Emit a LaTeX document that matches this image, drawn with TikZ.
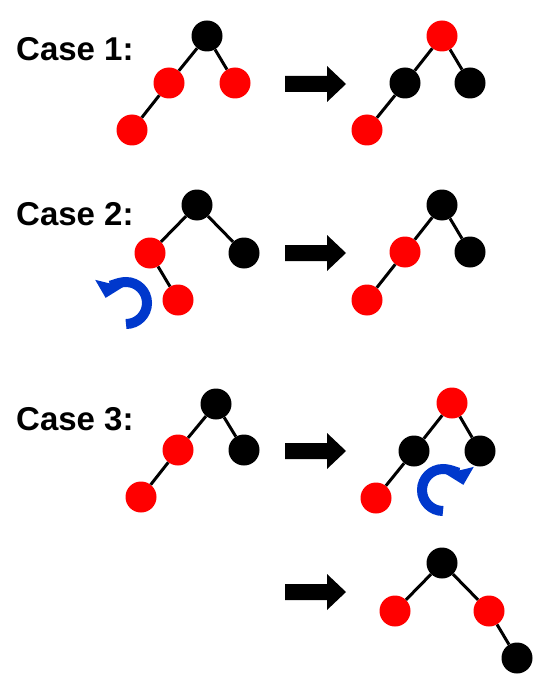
\documentclass[tikz,border=0pt]{standalone}
\usepackage{fontspec}
\setmainfont{Liberation Sans}
\usepackage{tikz}
\usetikzlibrary{arrows.meta}
\definecolor{rbred}{RGB}{255,0,0}
\definecolor{rotblue}{RGB}{0,56,204}

\tikzset{
  rn/.style={circle,fill=rbred,minimum size=31pt,inner sep=0pt},
  bn/.style={circle,fill=black,minimum size=31pt,inner sep=0pt},
  link/.style={line width=3pt},
  rot/.style={rotblue,line width=10pt,-{Triangle[length=15pt,width=28pt]}},
  casetext/.style={anchor=base west,inner sep=0pt,font=\fontsize{33}{38}\selectfont\bfseries},
  bigarrow/.pic={\fill (0,-8) -- (42,-8) -- (42,-18) -- (61,0) -- (42,18) -- (42,8) -- (0,8) -- cycle;}
}

\begin{document}
\begin{tikzpicture}[x=1pt,y=1pt,yscale=-1]
\useasboundingbox (0,0) rectangle (557,687);

% Text Node
\node[casetext] (t1) at (16,61) {Case 1:};
% Text Node
\node[casetext] (t2) at (16,225) {Case 2:};
% Text Node
\node[casetext] (t3) at (16,430) {Case 3:};

%Case 1 before
\node[bn] (a1) at (207,36) {};
\node[rn] (a2) at (169,83) {};
\node[rn] (a3) at (235,83) {};
\node[rn] (a4) at (132,130) {};
\draw[link] (a1) -- (a2) (a1) -- (a3) (a2) -- (a4);
%Case 1 after
\node[rn] (b1) at (442,36) {};
\node[bn] (b2) at (405,83) {};
\node[bn] (b3) at (470,83) {};
\node[rn] (b4) at (367,130) {};
\draw[link] (b1) -- (b2) (b1) -- (b3) (b2) -- (b4);

%Case 2 before
\node[bn] (c1) at (197,205) {};
\node[rn] (c2) at (150,253) {};
\node[bn] (c3) at (244,253) {};
\node[rn] (c4) at (178,300) {};
\draw[link] (c1) -- (c2) (c1) -- (c3) (c2) -- (c4);
\coordinate (rotl) at (126,303);
\draw[rot] ([shift={(90:21)}]rotl) arc[start angle=90,end angle=-166,radius=21];
%Case 2 after
\node[bn] (d1) at (442,205) {};
\node[rn] (d2) at (405,252) {};
\node[bn] (d3) at (470,252) {};
\node[rn] (d4) at (367,300) {};
\draw[link] (d1) -- (d2) (d1) -- (d3) (d2) -- (d4);

%Case 3 before
\node[bn] (e1) at (216,404) {};
\node[rn] (e2) at (178,450) {};
\node[bn] (e3) at (244,450) {};
\node[rn] (e4) at (141,497) {};
\draw[link] (e1) -- (e2) (e1) -- (e3) (e2) -- (e4);
%Case 3 middle
\node[rn] (f1) at (452,403) {};
\node[bn] (f2) at (414,451) {};
\node[bn] (f3) at (480,451) {};
\node[rn] (f4) at (376,498) {};
\draw[link] (f1) -- (f2) (f1) -- (f3) (f2) -- (f4);
\coordinate (rotr) at (443,490);
\draw[rot] ([shift={(90:21)}]rotr) arc[start angle=90,end angle=346,radius=21];
%Case 3 after
\node[bn] (g1) at (442,563) {};
\node[rn] (g2) at (395,611) {};
\node[rn] (g3) at (489,611) {};
\node[bn] (g4) at (517,658) {};
\draw[link] (g1) -- (g2) (g1) -- (g3) (g3) -- (g4);

%Block arrows
\pic at (285,84) {bigarrow};
\pic at (285,253) {bigarrow};
\pic at (285,451) {bigarrow};
\pic at (285,592) {bigarrow};

\end{tikzpicture}
\end{document}
